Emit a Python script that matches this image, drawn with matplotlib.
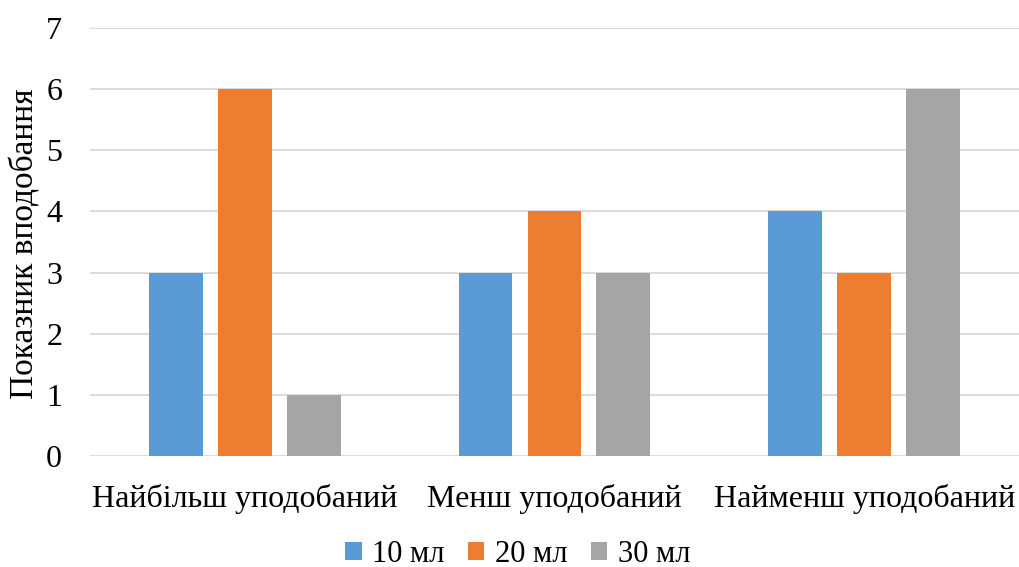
import matplotlib
matplotlib.use("Agg")
import matplotlib.pyplot as plt
from matplotlib.patches import Patch
import numpy as np

categories = ["Найбільш уподобаний", "Менш уподобаний", "Найменш уподобаний"]
series_names = ["10 мл", "20 мл", "30 мл"]
values_10 = [3, 3, 4]
values_20 = [6, 4, 3]
values_30 = [1, 3, 6]
colors = ["#5B9BD5", "#ED7D31", "#A5A5A5"]
y_ticks = [0, 1, 2, 3, 4, 5, 6, 7]

plt.rcParams["font.family"] = ["Liberation Serif", "DejaVu Serif"]
FS = 23

fig = plt.figure(figsize=(10.19, 5.67), dpi=100)
ax = fig.add_axes([0.0883, 0.196, 0.9117, 0.7546])

x = np.arange(len(categories))
width = 0.174
step = 0.2226
for i, (vals, col) in enumerate(zip([values_10, values_20, values_30], colors)):
    ax.bar(x + (i - 1) * step, vals, width=width, color=col, zorder=3)

ax.set_xlim(-0.5, len(categories) - 0.5)
ax.set_ylim(0, 7)
ax.set_yticks(y_ticks)
ax.set_yticklabels([str(t) for t in y_ticks], fontsize=FS)
ax.set_xticks(x)
ax.set_xticklabels(categories, fontsize=FS)
ax.tick_params(axis="both", length=0)
ax.tick_params(axis="y", pad=20)
ax.tick_params(axis="x", pad=20)
ax.grid(axis="y", color="#D9D9D9", linewidth=1.3, zorder=0)
for s in ax.spines.values():
    s.set_visible(False)

fig.text(0.025, 0.57, "Показник вподобання", rotation=90, fontsize=24,
         ha="center", va="center")

handles = [Patch(facecolor=c, edgecolor="none") for c in colors]
fig.legend(handles, series_names, loc="center", bbox_to_anchor=(0.508, 0.022),
           ncol=3, frameon=False, fontsize=22, handlelength=0.55, handleheight=0.55,
           handletextpad=0.35, columnspacing=0.75)

fig.savefig("out.png", dpi=100)
